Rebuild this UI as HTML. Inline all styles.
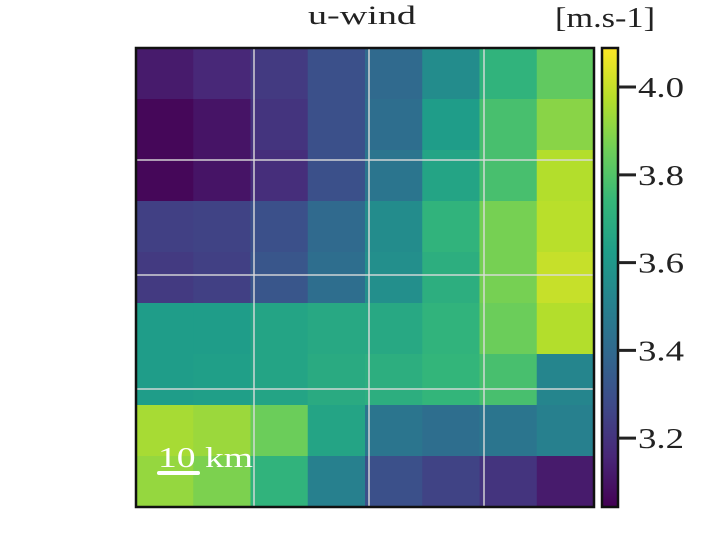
<!DOCTYPE html>
<html><head><meta charset="utf-8"><style>
body{margin:0;background:#fff;}
svg{display:block;font-family:"Liberation Serif",serif;}
</style></head><body>
<svg id="chart" width="728" height="558"></svg>
<script>
const rowsV = [
 [3.12,3.16,3.22,3.30,3.40,3.55,3.72,3.83],
 [3.06,3.10,3.20,3.30,3.42,3.62,3.78,3.90],
 [3.06,3.10,3.18,3.30,3.45,3.65,3.78,3.97],
 [3.24,3.25,3.30,3.40,3.55,3.72,3.87,3.98],
 [3.22,3.24,3.32,3.42,3.56,3.70,3.87,4.00],
 [3.62,3.62,3.65,3.67,3.67,3.72,3.85,3.97],
 [3.62,3.63,3.65,3.68,3.70,3.73,3.78,3.52],
 [3.95,3.93,3.85,3.65,3.45,3.42,3.45,3.50],
 [3.92,3.88,3.72,3.50,3.30,3.25,3.20,3.12]
];
const cbTicks = [3.2,3.4,3.6,3.8,4.0];
const cbTickLabels = ["3.2","3.4","3.6","3.8","4.0"];
const vmin = 3.043, vmax = 4.089;

const NS="http://www.w3.org/2000/svg";
const svg=document.getElementById('chart');
function mk(tag,attrs,parent){const e=document.createElementNS(NS,tag);for(const k in attrs)e.setAttribute(k,attrs[k]);(parent||svg).appendChild(e);return e;}
const vir=["#440154","#482878","#3e4a89","#31688e","#26828e","#1f9e89","#35b779","#6ece58","#b5de2b","#fde725"];
function hex(h){return [1,3,5].map(i=>parseInt(h.substr(i,2),16));}
function cmap(v){let t=(v-vmin)/(vmax-vmin);t=Math.max(0,Math.min(1,t))*(vir.length-1);const i=Math.min(vir.length-2,Math.floor(t)),f=t-i;const a=hex(vir[i]),b=hex(vir[i+1]);return `rgb(${a.map((x,k)=>Math.round(x+(b[k]-x)*f)).join(',')})`;}
const X0=136,X1=594,Y0=48,Y1=507;
const nR=rowsV.length,nC=rowsV[0].length;
const cw=(X1-X0)/nC,ch=(Y1-Y0)/nR;
const g=mk('g',{});


rowsV.forEach((row,r)=>row.forEach((v,c)=>{
 const e=mk('rect',{x:X0+c*cw,y:Y0+r*ch,width:cw+0.5,height:ch+0.5,fill:cmap(v)},g);
 
 
}));
[254,369,484].forEach(x=>{const l=mk('line',{x1:x,y1:Y0,x2:x,y2:Y1,stroke:'rgba(220,220,220,0.7)','stroke-width':2});});
[160,275,389].forEach(y=>{const l=mk('line',{x1:X0,y1:y,x2:X1,y2:y,stroke:'rgba(220,220,220,0.7)','stroke-width':2});});
const fr=mk('rect',{x:X0,y:Y0,width:X1-X0,height:Y1-Y0,fill:'none',stroke:'#111','stroke-width':2.5});

const sb=mk('line',{x1:159,y1:473,x2:198,y2:473,stroke:'#fff','stroke-width':4,'stroke-linecap':'round'});

const st=mk('text',{x:158,y:467,fill:'#fff','font-size':28,textLength:95,lengthAdjust:'spacingAndGlyphs'});st.textContent='10 km';

const defs=mk('defs',{});
const lg=mk('linearGradient',{id:'cbg',x1:0,y1:1,x2:0,y2:0},defs);
vir.forEach((c,i)=>mk('stop',{offset:i/(vir.length-1),'stop-color':c},lg));
const CX=602,CW=16;
const cb=mk('rect',{x:CX,y:Y0,width:CW,height:Y1-Y0,fill:'url(#cbg)',stroke:'#111','stroke-width':2.5});

function cy(v){return Y1-(v-vmin)/(vmax-vmin)*(Y1-Y0);}
cbTicks.forEach((v,i)=>{
 const t=mk('line',{x1:CX+CW,y1:cy(v),x2:CX+CW+18,y2:cy(v),stroke:'#222','stroke-width':3});
 
 const tx=mk('text',{x:638,y:cy(v)+10,'font-size':28,fill:'#222',textLength:46,lengthAdjust:'spacingAndGlyphs'});tx.textContent=cbTickLabels[i];
 
});
const ti=mk('text',{x:308,y:24,'font-size':26,fill:'#222',textLength:108,lengthAdjust:'spacingAndGlyphs'});ti.textContent='u-wind';

const un=mk('text',{x:555,y:27,'font-size':28,fill:'#222',textLength:100,lengthAdjust:'spacingAndGlyphs'});un.textContent='[m.s-1]';

</script>
</body></html>
